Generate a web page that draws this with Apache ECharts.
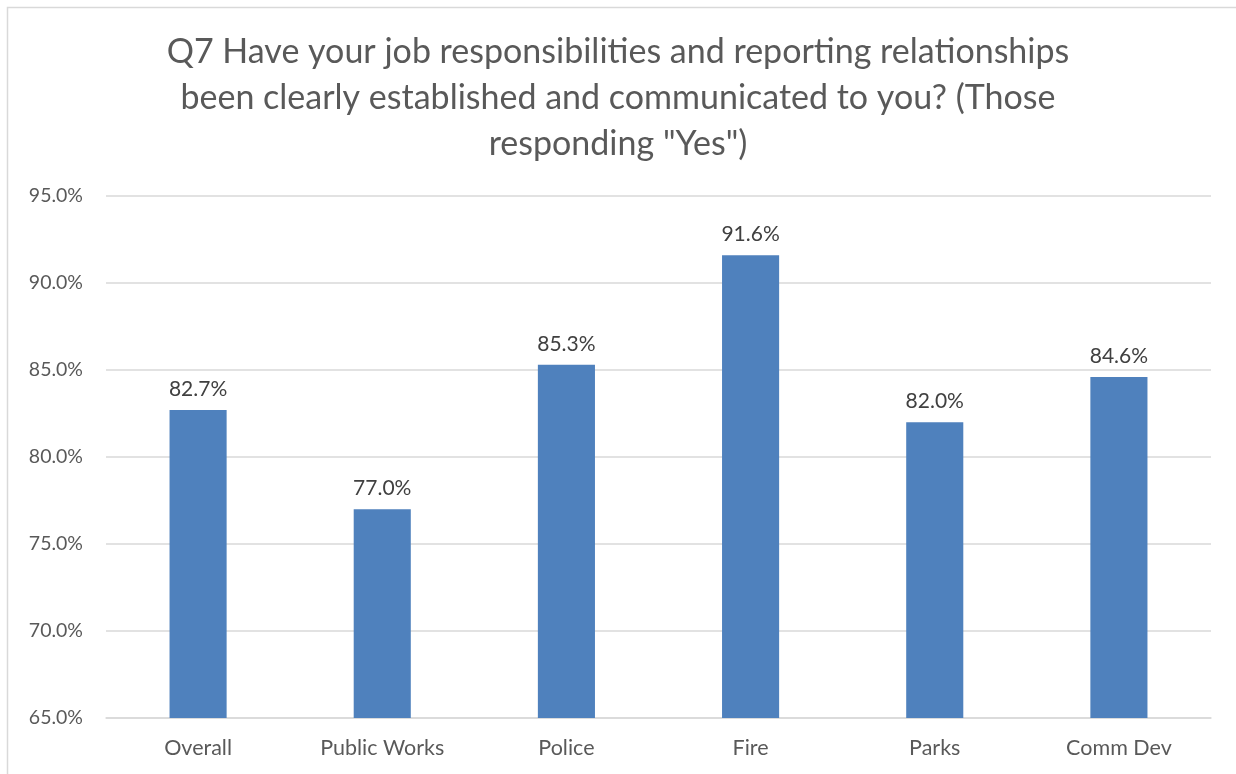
<!DOCTYPE html>
<html>
	<head>
		<meta charset="UTF-8">
		<title>Q7</title>
		<script src="https://cdn.jsdelivr.net/npm/echarts@6/dist/echarts.min.js"></script>
		<style>
			body { margin: 0; background: #fff; }
		</style>
	</head>
	<body>
		<div id="main" style="width: 1236px;height:774px;"></div>
		<script type="text/javascript">
		var categories = ['Overall', 'Public Works', 'Police', 'Fire', 'Parks', 'Comm Dev'];
		var yesValues = [82.7, 77.0, 85.3, 91.6, 82.0, 84.6];
		var titleText = 'Q7 Have your job responsibilities and reporting relationships\nbeen clearly established and communicated to you? (Those\nresponding "Yes")';

		var font = 'Lato';
		var myChart = echarts.init(document.getElementById('main'));
		var option = {
			backgroundColor: '#fff',
			animation: false,
			graphic: [{
				type: 'rect',
				shape: { x: 7.5, y: 7.5, width: 1240, height: 780 },
				style: { fill: 'none', stroke: '#d9d9d9', lineWidth: 1.5 }
			}],
			title: {
				text: titleText,
				left: 'center',
				top: 24,
				textStyle: {
					fontFamily: font,
					fontSize: 34,
					fontWeight: 'normal',
					color: '#595959',
					lineHeight: 46
				}
			},
			grid: {
				left: 106,
				right: 25,
				top: 196,
				bottom: 56
			},
			xAxis: {
				type: 'category',
				data: categories,
				axisTick: { show: false },
				axisLine: { lineStyle: { color: '#d9d9d9', width: 1.5 } },
				axisLabel: {
					color: '#595959',
					fontFamily: font,
					fontSize: 21.5,
					margin: 19
				}
			},
			yAxis: {
				type: 'value',
				min: 65,
				max: 95,
				interval: 5,
				axisLine: { show: false },
				axisTick: { show: false },
				splitLine: { lineStyle: { color: '#d9d9d9', width: 1.5 } },
				axisLabel: {
					color: '#595959',
					fontFamily: font,
					fontSize: 19.5,
					margin: 23,
					formatter: function (v) { return v.toFixed(1) + '%'; }
				}
			},
			series: [{
				name: 'Yes',
				type: 'bar',
				data: yesValues,
				barWidth: '31%',
				itemStyle: { color: '#4f81bd' },
				label: {
					show: true,
					position: 'top',
					distance: 10,
					color: '#404040',
					fontFamily: font,
					fontSize: 21,
					formatter: function (p) { return p.value.toFixed(1) + '%'; }
				}
			}]
		};
		myChart.setOption(option);
		</script>
	</body>
</html>
